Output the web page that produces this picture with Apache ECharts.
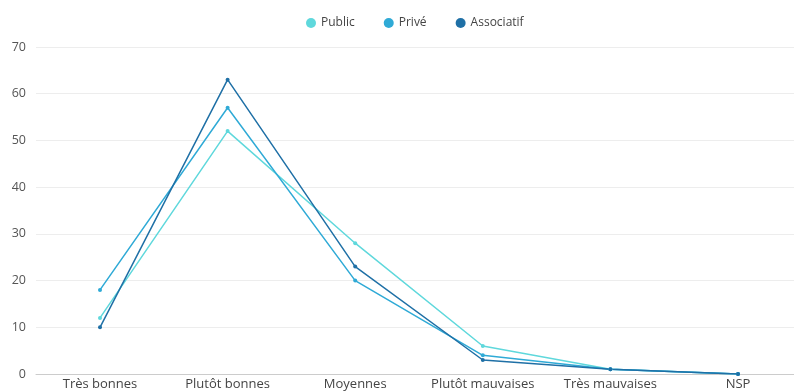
<!DOCTYPE html>
<html>
<head>
<meta charset="utf-8">
<script src="https://cdn.jsdelivr.net/npm/echarts@6/dist/echarts.min.js"></script>
<style>html,body{margin:0;padding:0;background:#fff;}#c{width:794px;height:391px;}</style>
</head>
<body>
<div id="c"></div>
<script>
var categories = ['Très bonnes', 'Plutôt bonnes', 'Moyennes', 'Plutôt mauvaises', 'Très mauvaises', 'NSP'];
var publicVals = [12, 52, 28, 6, 1, 0];
var priveVals = [18, 57, 20, 4, 1, 0];
var associatifVals = [10, 63, 23, 3, 1, 0];
var yTicks = [0, 10, 20, 30, 40, 50, 60, 70];

var colors = ['#5fd8dc', '#2faad6', '#1f70a6'];
var names = ['Public', 'Privé', 'Associatif'];
var datasets = [publicVals, priveVals, associatifVals];

var chart = echarts.init(document.getElementById('c'), null, {renderer: 'canvas'});
chart.setOption({
  animation: false,
  color: colors,
  textStyle: {fontFamily: 'Open Sans'},
  legend: {
    top: 12, left: 301,
    icon: 'circle', itemWidth: 10, itemHeight: 10, itemGap: 29,
    textStyle: {fontSize: 12, color: '#444', fontFamily: 'Open Sans'},
    data: names
  },
  grid: [
    {left: 36, right: 0, top: 47, bottom: 17},
    {left: 100, right: 56, top: 47, bottom: 17}
  ],
  xAxis: [
    {
      gridIndex: 0, type: 'category', data: categories, boundaryGap: true,
      axisLine: {show: true, lineStyle: {color: '#ccc', width: 1}},
      axisTick: {show: false}, axisLabel: {show: false}
    },
    {
      gridIndex: 1, type: 'category', data: categories, boundaryGap: false,
      axisLine: {show: false}, axisTick: {show: false},
      axisLabel: {color: '#444', fontSize: 13, margin: 4, interval: 0}
    }
  ],
  yAxis: [
    {
      gridIndex: 0, type: 'value', min: yTicks[0], max: yTicks[yTicks.length - 1], interval: 10,
      axisLine: {show: false}, axisTick: {show: false},
      axisLabel: {color: '#555', fontSize: 12.5, margin: 10},
      splitLine: {lineStyle: {color: '#ededed', width: 1}}
    },
    {
      gridIndex: 1, type: 'value', min: yTicks[0], max: yTicks[yTicks.length - 1], interval: 10,
      axisLine: {show: false}, axisTick: {show: false},
      axisLabel: {show: false}, splitLine: {show: false}
    }
  ],
  series: datasets.map(function (d, i) {
    return {
      name: names[i], type: 'line', data: d,
      xAxisIndex: 1, yAxisIndex: 1,
      symbol: 'circle', symbolSize: 4,
      lineStyle: {width: 1.5, color: colors[i]},
      itemStyle: {color: colors[i]}
    };
  })
});
</script>
</body>
</html>
